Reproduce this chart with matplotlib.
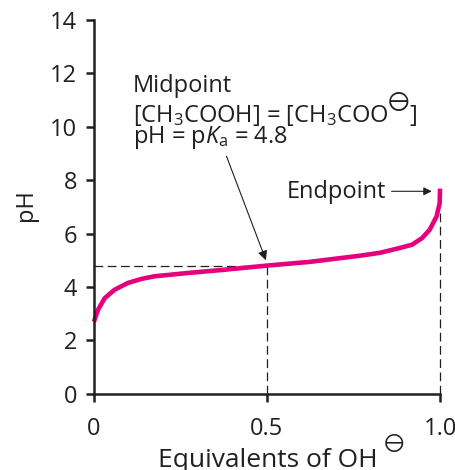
import matplotlib
matplotlib.use("Agg")
import matplotlib.pyplot as plt

plt.rcParams["font.family"] = ["Open Sans", "DejaVu Sans"]
plt.rcParams["mathtext.fontset"] = "custom"
plt.rcParams["mathtext.rm"] = "Open Sans"
plt.rcParams["mathtext.it"] = "Open Sans:italic"

INK = "#231f20"
CURVE = "#e6007e"
FS = 17

# titration curve
equiv = [0.0, 0.012, 0.031, 0.06, 0.098, 0.137, 0.175, 0.277, 0.373, 0.5,
         0.624, 0.769, 0.827, 0.884, 0.919, 0.948, 0.97, 0.99, 0.999, 1.0]
ph = [2.7, 3.15, 3.58, 3.9, 4.15, 4.3, 4.4, 4.53, 4.64, 4.8,
      4.94, 5.17, 5.28, 5.46, 5.58, 5.83, 6.14, 6.64, 7.14, 7.68]

x_ticks = [0, 0.5, 1.0]
x_tick_labels = ["0", "0.5", "1.0"]
y_ticks = [0, 2, 4, 6, 8, 10, 12, 14]

midpoint = (0.5, 4.8)
endpoint_dash_top = 6.9


def append_after(fig, ax, txt, s, dx, rise, size, math_font=None):
    # put a string right after an existing text, offset in points from its baseline
    fig.canvas.draw()
    r = fig.canvas.get_renderer()
    bb = txt.get_window_extent(r)
    base = txt.get_transform().transform(txt.get_position())
    t = ax.annotate(s, xy=(bb.x1, base[1]), xycoords="figure pixels",
                    xytext=(dx, rise), textcoords="offset points",
                    ha="left", va="baseline", fontsize=size, color=INK,
                    annotation_clip=False)
    if math_font:
        t.set_math_fontfamily(math_font)
    return t


fig = plt.figure(figsize=(4.56, 4.70), dpi=100)
ax = fig.add_axes([0.206, 0.162, 0.759, 0.796])

ax.plot(equiv, ph, color=CURVE, lw=3.3, solid_capstyle="butt", zorder=3, clip_on=False)

dash = (0, (7, 3.6))
ax.plot([0, midpoint[0]], [midpoint[1], midpoint[1]], color=INK, lw=0.9, linestyle=dash, clip_on=False)
ax.plot([midpoint[0], midpoint[0]], [0, midpoint[1]], color=INK, lw=0.9, linestyle=dash, clip_on=False)
ax.plot([1.0, 1.0], [0, endpoint_dash_top], color=INK, lw=0.9, linestyle=dash, clip_on=False)

ax.set_xlim(0, 1.0)
ax.set_ylim(0, 14)
ax.set_xticks(x_ticks)
ax.set_xticklabels(x_tick_labels)
ax.set_yticks(y_ticks)

for side in ["top", "right"]:
    ax.spines[side].set_visible(False)
for side in ["left", "bottom"]:
    ax.spines[side].set_linewidth(1.8)
    ax.spines[side].set_color(INK)
    ax.spines[side].set_zorder(4)
ax.tick_params(axis="both", direction="out", length=6, width=1.8, colors=INK,
               labelsize=FS, labelcolor=INK)
ax.tick_params(axis="x", pad=11)
ax.tick_params(axis="y", pad=6)

fig.text(0.057, 0.564, "pH", fontsize=FS, color=INK, rotation=90, ha="center", va="center")
xlab = fig.text(0.587, 0.0055, "Equivalents of OH", fontsize=19, color=INK,
                ha="center", va="baseline")

ax.text(0.113, 11.31, "Midpoint", fontsize=FS, color=INK, va="baseline", ha="left")
eq = ax.text(0.113, 10.19, r"[CH$_3$COOH] = [CH$_3$COO", fontsize=FS,
             color=INK, va="baseline", ha="left")
ax.text(0.113, 9.40, r"pH = p$K_{\mathrm{a}}$ = 4.8", fontsize=FS, color=INK,
        va="baseline", ha="left")
ax.annotate("", xy=(0.497, 5.0), xytext=(0.383, 8.89),
            arrowprops=dict(arrowstyle="-|>", color=INK, lw=0.8,
                            mutation_scale=14, shrinkA=0, shrinkB=0))

ax.text(0.557, 7.34, "Endpoint", fontsize=FS, color=INK, va="baseline", ha="left")
ax.annotate("", xy=(0.976, 7.58), xytext=(0.86, 7.58),
            arrowprops=dict(arrowstyle="-|>", color=INK, lw=0.8,
                            mutation_scale=12, shrinkA=0, shrinkB=0))

minus = append_after(fig, ax, eq, r"$\ominus$", -1.5, 9.8, 18.5, math_font="stixsans")
append_after(fig, ax, minus, "]", 0.3, -9.8, FS)
append_after(fig, ax, xlab, r"$\ominus$", 4, 13.0, 17.5, math_font="stixsans")

fig.savefig("out.png", dpi=100)
